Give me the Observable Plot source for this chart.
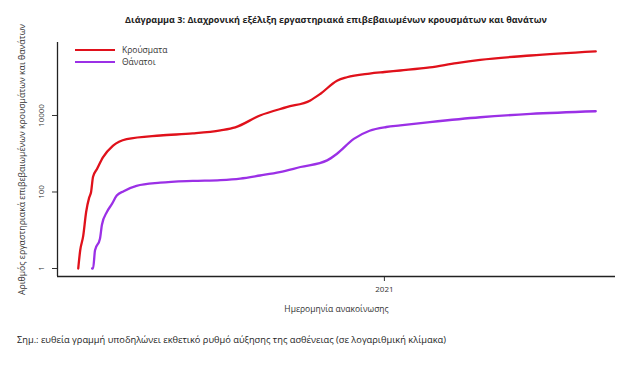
<!DOCTYPE html>
<html><head><meta charset="utf-8">
<script src="https://cdn.jsdelivr.net/npm/d3@7"></script>
<script src="https://cdn.jsdelivr.net/npm/@observablehq/plot@0.6"></script>
<style>
body{margin:0;background:#fff;}
#wrap{position:relative;width:636px;height:367px;font-family:"Open Sans",sans-serif;color:#222;}
.abs{position:absolute;white-space:nowrap;line-height:1;}
</style></head>
<body><div id="wrap"></div>
<script>
const caseDates = ["2020-02-26","2020-02-28","2020-03-02","2020-03-05","2020-03-08","2020-03-10","2020-03-12","2020-03-16","2020-03-22","2020-04-01","2020-04-15","2020-05-19","2020-06-21","2020-07-19","2020-08-03","2020-08-28","2020-09-24","2020-10-18","2020-10-28","2020-11-14","2020-11-24","2020-12-17","2021-01-01","2021-01-17","2021-02-16","2021-03-15","2021-04-08","2021-05-29","2021-08-03"];
const caseValues = [1,3,7,30,70,100,250,400,800,1600,2400,3000,3400,4100,4900,10000,16500,24800,36500,81000,100000,125000,137000,150000,180000,235000,285000,370000,475000];
const deathDates = ["2020-03-11","2020-03-12","2020-03-14","2020-03-19","2020-03-21","2020-03-26","2020-03-31","2020-04-05","2020-04-12","2020-04-25","2020-05-19","2020-06-21","2020-07-19","2020-08-08","2020-08-28","2020-09-17","2020-10-08","2020-11-04","2020-11-14","2020-12-01","2020-12-17","2021-01-03","2021-01-17","2021-02-16","2021-04-08","2021-05-29","2021-08-03"];
const deathValues = [1,1,3,6,14,30,48,81,105,145,175,195,205,225,270,330,450,670,1000,2450,4000,5000,5500,6700,9000,11000,12900];
const seriesNames = ["Κρούσματα","Θάνατοι"];
const seriesColors = ["#e0111b","#9b30e6"];
const yTicks = [1,100,10000];
const xTicks = ["2021-01-01"];
const xTickLabels = ["2021"];
const titleText = "Διάγραμμα 3: Διαχρονική εξέλιξη εργαστηριακά επιβεβαιωμένων κρουσμάτων και θανάτων";
const yLabel = "Αριθμός εργαστηριακά επιβεβαιωμένων κρουσμάτων και θανάτων";
const xLabel = "Ημερομηνία ανακοίνωσης";
const noteText = "Σημ.: ευθεία γραμμή υποδηλώνει εκθετικό ρυθμό αύξησης της ασθένειας (σε λογαριθμική κλίμακα)";

const parse = d3.utcParse("%Y-%m-%d");
const rows = [
  ...caseDates.map((d,i)=>({date:parse(d), value:caseValues[i], series:seriesNames[0]})),
  ...deathDates.map((d,i)=>({date:parse(d), value:deathValues[i], series:seriesNames[1]}))
];
const xDomain = [parse("2020-02-05"), parse("2021-08-23")];
const yDomain = [0.618, 809000];

const chart = Plot.plot({
  width: 636, height: 367,
  marginLeft: 57, marginRight: 21, marginTop: 42, marginBottom: 91,
  style: {fontFamily: "Open Sans, sans-serif", color: "#222", background: "transparent"},
  x: {type: "utc", domain: xDomain},
  y: {type: "log", domain: yDomain},
  color: {domain: seriesNames, range: seriesColors},
  marks: [
    Plot.axisY({ticks: yTicks, tickSize: 5, tickFormat: () => "", label: null, stroke: "#333"}),
    Plot.text(yTicks, {y: d => d, text: d => String(d), frameAnchor: "left", textAnchor: "middle", dx: -16, rotate: -90, fontSize: 8, fill: "#333"}),
    Plot.axisX({ticks: xTicks.map(parse), tickSize: 5, tickPadding: 5, tickFormat: (d,i) => xTickLabels[i], label: null, fontSize: 8, stroke: "#333", fill: "#333"}),
    Plot.text([yLabel], {frameAnchor: "left", textAnchor: "middle", dx: -35, rotate: -90, fontSize: 8.7, fill: "#333"}),
    Plot.text([xLabel], {frameAnchor: "bottom", dy: 35, fontSize: 8.5, fill: "#333"}),
    Plot.ruleX([xDomain[0]], {stroke: "#222", strokeWidth: 1.3}),
    Plot.ruleY([yDomain[0]], {stroke: "#222", strokeWidth: 1.3}),
    Plot.line(rows, {x: "date", y: "value", stroke: "series", z: "series", strokeWidth: 2.3, curve: "monotone-x"})
  ]
});
const wrap = document.getElementById("wrap");
wrap.appendChild(chart);

function addText(txt, left, top, size, weight, anchorCenter, targetWidth){
  const s = document.createElement("div");
  s.className = "abs";
  s.textContent = txt;
  s.style.fontSize = size + "px";
  s.style.fontWeight = weight;
  wrap.appendChild(s);
  if (targetWidth) {
    const w = s.getBoundingClientRect().width;
    s.style.fontSize = (size * targetWidth / w) + "px";
  }
  const r = s.getBoundingClientRect();
  s.style.left = (anchorCenter ? left - r.width/2 : left) + "px";
  s.style.top = (top - r.height/2) + "px";
  return s;
}
addText(titleText, 336, 20, 10, 700, true, 422);
addText(noteText, 17, 340, 9, 400, false, 430);

// legend
const leg = document.createElement("div");
leg.className = "abs";
leg.style.left = "75px"; leg.style.top = "44px";
seriesNames.forEach((n,i) => {
  const row = document.createElement("div");
  row.style.display = "flex"; row.style.alignItems = "center"; row.style.height = "12px";
  const sw = document.createElement("span");
  sw.style.display = "inline-block"; sw.style.width = "40px"; sw.style.height = "2.5px"; sw.style.background = seriesColors[i];
  const lb = document.createElement("span");
  lb.textContent = n; lb.style.fontSize = "8.5px"; lb.style.marginLeft = "7px"; lb.style.color = "#333";
  row.appendChild(sw); row.appendChild(lb);
  leg.appendChild(row);
});
wrap.appendChild(leg);
</script>
</body></html>
